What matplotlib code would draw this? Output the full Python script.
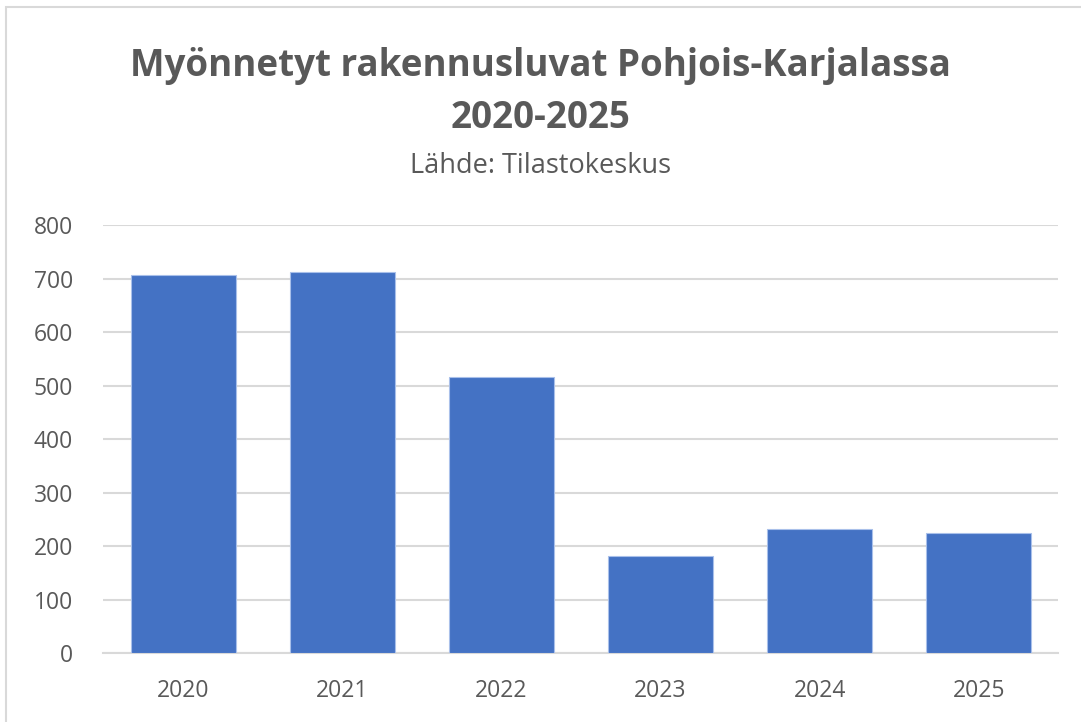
import matplotlib
matplotlib.use("Agg")
import matplotlib.pyplot as plt
from matplotlib.patches import Rectangle

# data
vuodet = ["2020", "2021", "2022", "2023", "2024", "2025"]
luvat = [707, 713, 517, 182, 231, 225]

plt.rcParams['font.family'] = ['Open Sans', 'DejaVu Sans']

fig = plt.figure(figsize=(10.81, 7.22), dpi=100)
ax = fig.add_axes([0.0957, 0.0956, 0.8833, 0.5924])

x = range(len(vuodet))
ax.bar(x, luvat, width=0.66, color="#4472C4", edgecolor="#a9c0ea", linewidth=0.8, zorder=3)

ax.set_xlim(-0.5, len(vuodet) - 0.5)
ax.set_ylim(0, 800)
ax.set_yticks(range(0, 801, 100))
ax.set_xticks(list(x))
ax.set_xticklabels(vuodet)
ax.yaxis.grid(True, color="#d9d9d9", linewidth=1.5, zorder=0)
for s in ["top", "right", "left"]:
    ax.spines[s].set_visible(False)
ax.spines["bottom"].set_color("#d9d9d9")
ax.spines["bottom"].set_linewidth(1.5)
ax.tick_params(axis="both", length=0, labelsize=16.5, labelcolor="#595959")
ax.tick_params(axis="x", pad=19)
ax.tick_params(axis="y", pad=22)

fig.text(0.5, 0.909, "Myönnetyt rakennusluvat Pohjois-Karjalassa", ha="center", va="center",
         fontsize=26.5, fontweight="bold", color="#595959")
fig.text(0.5, 0.837, "2020-2025", ha="center", va="center",
         fontsize=26.5, fontweight="bold", color="#595959")
fig.text(0.5, 0.770, "Lähde: Tilastokeskus", ha="center", va="center",
         fontsize=19.5, color="#595959")

# outer frame
fig.patches.append(Rectangle((0.006, -0.01), 1.1, 1.0,
                             transform=fig.transFigure, fill=False,
                             edgecolor="#d9d9d9", linewidth=1.5))

fig.savefig("out.png", dpi=100)
